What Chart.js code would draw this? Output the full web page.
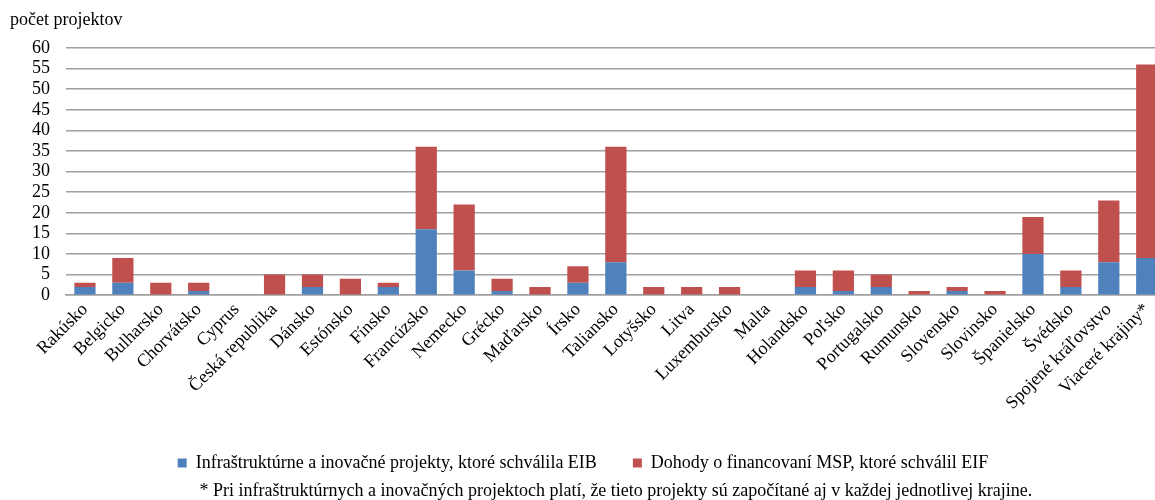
<!DOCTYPE html>
<html>
<head>
<meta charset="utf-8">
<script src="https://cdn.jsdelivr.net/npm/chart.js@4"></script>
<style>
  html, body { margin: 0; padding: 0; background: #fff; overflow: hidden; }
  #wrap { width: 1166px; height: 500px; position: relative; }
</style>
</head>
<body>
<div id="wrap"><canvas id="projects-chart"></canvas></div>
<script>
// countries on the x axis
const countries = ['Rakúsko', 'Belgicko', 'Bulharsko', 'Chorvátsko', 'Cyprus', 'Česká republika',
  'Dánsko', 'Estónsko', 'Fínsko', 'Francúzsko', 'Nemecko', 'Grécko', 'Maďarsko', 'Írsko',
  'Taliansko', 'Lotyšsko', 'Litva', 'Luxembursko', 'Malta', 'Holandsko', 'Poľsko', 'Portugalsko',
  'Rumunsko', 'Slovensko', 'Slovinsko', 'Španielsko', 'Švédsko', 'Spojené kráľovstvo', 'Viaceré krajiny*'];

// infrastructure & innovation projects (EIB)
const eibProjects = [2, 3, 0, 1, 0, 0, 2, 0, 2, 16, 6, 1, 0, 3, 8, 0, 0, 0, 0, 2, 1, 2, 0, 1, 0, 10, 2, 8, 9];
// SME financing agreements (EIF)
const eifAgreements = [1, 6, 3, 2, 0, 5, 3, 4, 1, 20, 16, 3, 2, 4, 28, 2, 2, 2, 0, 4, 5, 3, 1, 1, 1, 9, 4, 15, 47];

const yMax = 60;
const yStep = 5;

const serif = 'Liberation Serif, Times New Roman, serif';

// axis caption in the top left corner
const axisCaption = {
  id: 'axisCaption',
  afterDraw(chart) {
    const c = chart.ctx;
    c.save();
    c.font = '18px ' + serif;
    c.fillStyle = '#000';
    c.textBaseline = 'middle';
    c.textAlign = 'left';
    c.fillText('počet projektov', 10, 20);
    c.restore();
  }
};

const ctx = document.getElementById('projects-chart');

new Chart(ctx, {
  type: 'bar',
  data: {
    labels: countries,
    datasets: [{
      label: 'Infraštruktúrne a inovačné projekty, ktoré schválila EIB',
      data: eibProjects,
      backgroundColor: '#4f81bd',
      borderWidth: 0,
      categoryPercentage: 1,
      barPercentage: 0.56
    }, {
      label: 'Dohody o financovaní MSP, ktoré schválil EIF',
      data: eifAgreements,
      backgroundColor: '#c0504d',
      borderWidth: 0,
      categoryPercentage: 1,
      barPercentage: 0.56
    }]
  },
  plugins: [axisCaption],
  options: {
    responsive: true,
    maintainAspectRatio: false,
    animation: false,
    layout: { padding: { left: 0, right: 0, top: 48, bottom: 0 } },
    plugins: {
      legend: {
        position: 'bottom',
        labels: {
          color: '#000',
          boxWidth: 9,
          boxHeight: 9,
          padding: 36,
          font: { family: serif, size: 18 }
        }
      },
      subtitle: {
        display: true,
        position: 'bottom',
        fullSize: false,
        text: '* Pri infraštruktúrnych a inovačných projektoch platí, že tieto projekty sú započítané aj v každej jednotlivej krajine.',
        color: '#000',
        font: { family: serif, size: 18, lineHeight: 1 },
        padding: { top: 0, bottom: 0 }
      },
      tooltip: { enabled: false }
    },
    scales: {
      x: {
        stacked: true,
        grid: { display: false, drawTicks: false },
        border: { color: '#a0a0a0', width: 1.5 },
        ticks: {
          color: '#000',
          font: { family: serif, size: 18 },
          maxRotation: 45,
          minRotation: 45,
          autoSkip: false,
          padding: 4
        }
      },
      y: {
        stacked: true,
        min: 0,
        max: yMax,
        afterFit: scale => { scale.width = 66; },
        grid: { color: '#a0a0a0', lineWidth: 1.5, drawTicks: false },
        border: { display: false },
        ticks: {
          stepSize: yStep,
          autoSkip: false,
          color: '#000',
          font: { family: serif, size: 18 },
          padding: 16
        }
      }
    }
  }
});
</script>
</body>
</html>
